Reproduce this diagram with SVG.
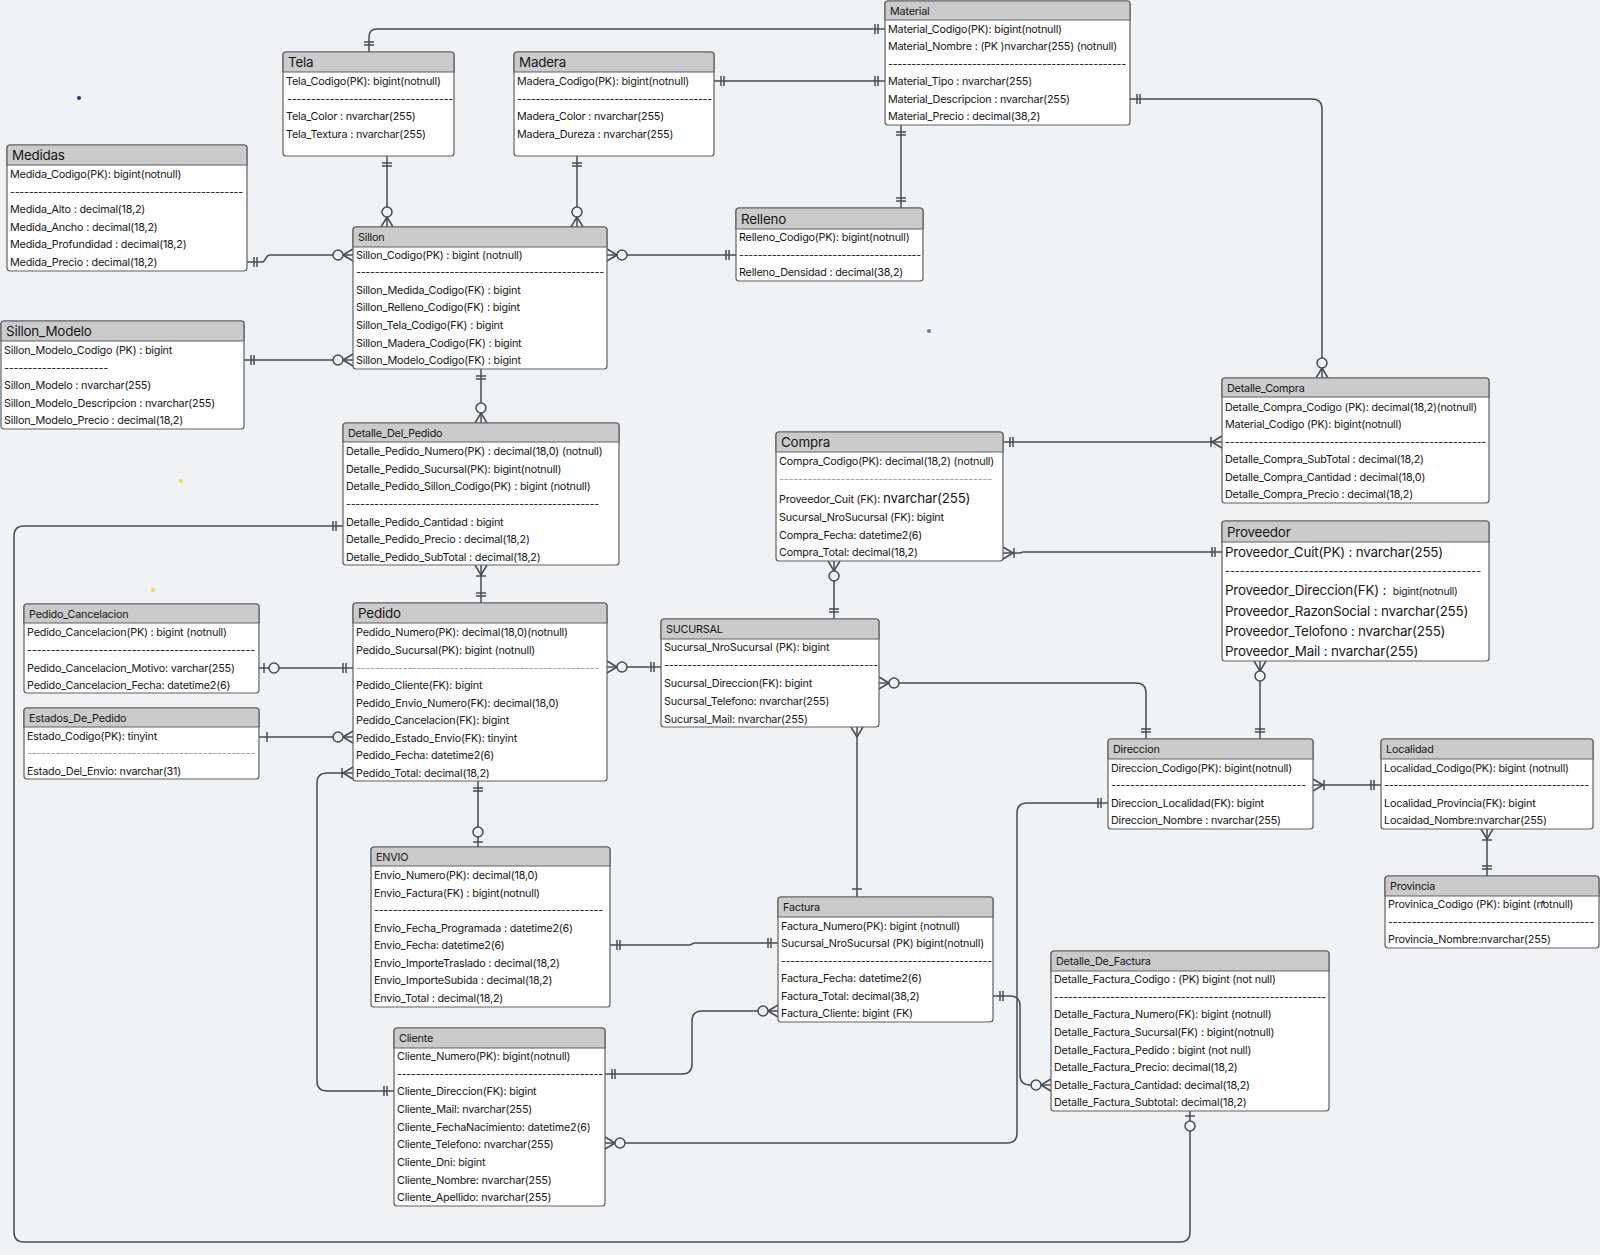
<svg xmlns="http://www.w3.org/2000/svg" width="1600" height="1255" viewBox="0 0 1600 1255">
<style>
.bg{fill:#f1f2f4}
.b{fill:#ffffff;stroke:#5c6067;stroke-width:1.2}
.h{fill:#cbcbcb;stroke:#5c6067;stroke-width:1.2}
text{font-family:Inter,"Liberation Sans","Noto Sans",sans-serif;font-size:10.8px;letter-spacing:-0.2px;fill:#161616}
.tb{font-size:13.4px}
.big{font-size:13.4px}
.ld{fill:#9a9a9a}
.cn{fill:none;stroke:#474c54;stroke-width:1.5}
.mk{fill:none;stroke:#474c54;stroke-width:1.5}
.mc{fill:#f1f2f4;stroke:#474c54;stroke-width:1.5}
</style>
<defs>
<marker id="mOO" viewBox="-25 -15 30 30" markerWidth="30" markerHeight="30" refX="0" refY="0" orient="auto-start-reverse" markerUnits="userSpaceOnUse"><path class="mk" d="M-7,-5V5M-10,-5V5"/></marker>
<marker id="mZM" viewBox="-25 -15 30 30" markerWidth="30" markerHeight="30" refX="0" refY="0" orient="auto-start-reverse" markerUnits="userSpaceOnUse"><path class="mk" d="M-10,0L0,-6M-10,0L0,6"/><circle class="mc" cx="-15" cy="0" r="5"/></marker>
<marker id="mOM" viewBox="-25 -15 30 30" markerWidth="30" markerHeight="30" refX="0" refY="0" orient="auto-start-reverse" markerUnits="userSpaceOnUse"><path class="mk" d="M-10,0L0,-6M-10,0L0,6M-11,-5V5"/></marker>
<marker id="mZO" viewBox="-25 -15 30 30" markerWidth="30" markerHeight="30" refX="0" refY="0" orient="auto-start-reverse" markerUnits="userSpaceOnUse"><path class="mk" d="M-5,-5V5"/><circle class="mc" cx="-15" cy="0" r="5"/></marker>
<marker id="mO1" viewBox="-25 -15 30 30" markerWidth="30" markerHeight="30" refX="0" refY="0" orient="auto-start-reverse" markerUnits="userSpaceOnUse"><path class="mk" d="M-8,-5V5"/></marker>
<marker id="mMM" viewBox="-25 -15 30 30" markerWidth="30" markerHeight="30" refX="0" refY="0" orient="auto-start-reverse" markerUnits="userSpaceOnUse"><path class="mk" d="M-10,0L0,-6M-10,0L0,6"/></marker>
</defs>
<rect class="bg" x="0" y="0" width="1600" height="1255"/>
<circle cx="79" cy="98" r="2" fill="#2b2b9c"/>
<circle cx="929" cy="331" r="2" fill="#7466dd"/>
<circle cx="181" cy="481" r="2" fill="#f3d64a"/>
<circle cx="153" cy="590" r="2" fill="#f3d64a"/>

<g id="connectors">
<path class="cn" d="M369,52 V37 Q369,29 377,29 H885" marker-start="url(#mOO)" marker-end="url(#mOO)"/>
<path class="cn" d="M714,81 H885" marker-start="url(#mOO)" marker-end="url(#mOO)"/>
<path class="cn" d="M387,156 V227" marker-start="url(#mOO)" marker-end="url(#mZM)"/>
<path class="cn" d="M577,156 V227" marker-start="url(#mOO)" marker-end="url(#mZM)"/>
<path class="cn" d="M247,262 H262 C266,262 265,255 270,255 H353" marker-start="url(#mOO)" marker-end="url(#mZM)"/>
<path class="cn" d="M244,360 H353" marker-start="url(#mOO)" marker-end="url(#mZM)"/>
<path class="cn" d="M607,255 H736" marker-start="url(#mZM)" marker-end="url(#mOO)"/>
<path class="cn" d="M901,125 V208" marker-start="url(#mOO)" marker-end="url(#mOO)"/>
<path class="cn" d="M1130,99 H1312 Q1322,99 1322,109 V378" marker-start="url(#mOO)" marker-end="url(#mZM)"/>
<path class="cn" d="M481,369 V423" marker-start="url(#mOO)" marker-end="url(#mZM)"/>
<path class="cn" d="M481,565 V603" marker-start="url(#mOM)" marker-end="url(#mOO)"/>
<path class="cn" d="M1003,442 H1222" marker-start="url(#mOO)" marker-end="url(#mOM)"/>
<path class="cn" d="M1003,553 H1020 L1023,552 H1222" marker-start="url(#mOM)" marker-end="url(#mOO)"/>
<path class="cn" d="M834,561 V619" marker-start="url(#mZM)" marker-end="url(#mOO)"/>
<path class="cn" d="M607,667 H661" marker-start="url(#mZM)" marker-end="url(#mOO)"/>
<path class="cn" d="M879,683 H1136 Q1146,683 1146,693 V739" marker-start="url(#mZM)" marker-end="url(#mOO)"/>
<path class="cn" d="M1260,661 V739" marker-start="url(#mZM)" marker-end="url(#mOO)"/>
<path class="cn" d="M1313,785 H1381" marker-start="url(#mOM)" marker-end="url(#mOO)"/>
<path class="cn" d="M1487,829 V876" marker-start="url(#mOM)" marker-end="url(#mOO)"/>
<path class="cn" d="M259,668 H353" marker-start="url(#mZO)" marker-end="url(#mOO)"/>
<path class="cn" d="M259,737 H353" marker-start="url(#mO1)" marker-end="url(#mZM)"/>
<path class="cn" d="M478,781 V847" marker-start="url(#mOO)" marker-end="url(#mZO)"/>
<path class="cn" d="M353,773 H327 Q317,773 317,783 V1081 Q317,1091 327,1091 H394" marker-start="url(#mOM)" marker-end="url(#mOO)"/>
<path class="cn" d="M610,945 H690 L694,943 H778" marker-start="url(#mOO)" marker-end="url(#mOO)"/>
<path class="cn" d="M605,1074 H682 Q692,1074 692,1064 V1021 Q692,1011 702,1011 H778" marker-start="url(#mOO)" marker-end="url(#mZM)"/>
<path class="cn" d="M857,727 V897" marker-start="url(#mMM)" marker-end="url(#mO1)"/>
<path class="cn" d="M993,996 H1010 Q1020,996 1020,1006 V1075 Q1020,1085 1030,1085 H1051" marker-start="url(#mOO)" marker-end="url(#mZM)"/>
<path class="cn" d="M1108,803 H1027 Q1017,803 1017,813 V1133 Q1017,1143 1007,1143 H605" marker-start="url(#mOO)" marker-end="url(#mZM)"/>
<path class="cn" d="M1190,1111 V1232 Q1190,1242 1180,1242 H24 Q14,1242 14,1232 V536 Q14,526 24,526 H343" marker-start="url(#mZO)" marker-end="url(#mOO)"/>
</g>

<g id="tela">
<rect class="b" x="283" y="52" width="171" height="104" rx="3"/>
<path class="h" d="M283,72 V55 Q283,52 286,52 H451 Q454,52 454,55 V72 Z"/>
<text class="tb" x="288" y="67">Tela</text>
<text x="286" y="85">Tela_Codigo(PK): bigint(notnull)</text>
<text x="287" y="102.5" textLength="166" lengthAdjust="spacing">-----------------------------------</text>
<text x="286" y="120">Tela_Color : nvarchar(255)</text>
<text x="286" y="138">Tela_Textura : nvarchar(255)</text>
</g>

<g id="madera">
<rect class="b" x="514" y="52" width="200" height="104" rx="3"/>
<path class="h" d="M514,72 V55 Q514,52 517,52 H711 Q714,52 714,55 V72 Z"/>
<text class="tb" x="519" y="67">Madera</text>
<text x="517" y="85">Madera_Codigo(PK): bigint(notnull)</text>
<text x="517" y="102.5" textLength="195" lengthAdjust="spacing">------------------------------------------</text>
<text x="517" y="120">Madera_Color : nvarchar(255)</text>
<text x="517" y="138">Madera_Dureza : nvarchar(255)</text>
</g>

<g id="material">
<rect class="b" x="885" y="1" width="245" height="124" rx="3"/>
<path class="h" d="M885,20 V4 Q885,1 888,1 H1127 Q1130,1 1130,4 V20 Z"/>
<text x="890" y="14.5">Material</text>
<text x="888" y="33">Material_Codigo(PK): bigint(notnull)</text>
<text x="888" y="50" textLength="229" lengthAdjust="spacingAndGlyphs">Material_Nombre : (PK )nvarchar(255) (notnull)</text>
<text x="888" y="67.5" textLength="238" lengthAdjust="spacing">---------------------------------------------------</text>
<text x="888" y="85">Material_Tipo : nvarchar(255)</text>
<text x="888" y="103">Material_Descripcion : nvarchar(255)</text>
<text x="888" y="120">Material_Precio : decimal(38,2)</text>
</g>

<g id="medidas">
<rect class="b" x="7" y="145" width="240" height="126" rx="3"/>
<path class="h" d="M7,165 V148 Q7,145 10,145 H244 Q247,145 247,148 V165 Z"/>
<text class="tb" x="12" y="160">Medidas</text>
<text x="10" y="178">Medida_Codigo(PK): bigint(notnull)</text>
<text x="10" y="195.5" textLength="233" lengthAdjust="spacing">--------------------------------------------------</text>
<text x="10" y="213">Medida_Alto : decimal(18,2)</text>
<text x="10" y="231">Medida_Ancho : decimal(18,2)</text>
<text x="10" y="248">Medida_Profundidad : decimal(18,2)</text>
<text x="10" y="266">Medida_Precio : decimal(18,2)</text>
</g>

<g id="sillon">
<rect class="b" x="353" y="227" width="254" height="142" rx="3"/>
<path class="h" d="M353,247 V230 Q353,227 356,227 H604 Q607,227 607,230 V247 Z"/>
<text x="358" y="241">Sillon</text>
<text x="356" y="259">Sillon_Codigo(PK) : bigint (notnull)</text>
<text x="356" y="275.5" textLength="248" lengthAdjust="spacing">-----------------------------------------------------</text>
<text x="356" y="294">Sillon_Medida_Codigo(FK) : bigint</text>
<text x="356" y="311">Sillon_Relleno_Codigo(FK) : bigint</text>
<text x="356" y="329">Sillon_Tela_Codigo(FK) : bigint</text>
<text x="356" y="347">Sillon_Madera_Codigo(FK) : bigint</text>
<text x="356" y="364">Sillon_Modelo_Codigo(FK) : bigint</text>
</g>

<g id="relleno">
<rect class="b" x="736" y="208" width="187" height="73" rx="3"/>
<path class="h" d="M736,229 V211 Q736,208 739,208 H920 Q923,208 923,211 V229 Z"/>
<text class="tb" x="741" y="223.5">Relleno</text>
<text x="739" y="241">Relleno_Codigo(PK): bigint(notnull)</text>
<text x="739" y="258.5" textLength="182" lengthAdjust="spacing">---------------------------------------</text>
<text x="739" y="276">Relleno_Densidad : decimal(38,2)</text>
</g>

<g id="sillon_modelo">
<rect class="b" x="1" y="321" width="243" height="108" rx="3"/>
<path class="h" d="M1,341 V324 Q1,321 4,321 H241 Q244,321 244,324 V341 Z"/>
<text class="tb" x="6" y="336">Sillon_Modelo</text>
<text x="4" y="354">Sillon_Modelo_Codigo (PK) : bigint</text>
<text x="4" y="371.5" textLength="104" lengthAdjust="spacing">----------------------</text>
<text x="4" y="389">Sillon_Modelo : nvarchar(255)</text>
<text x="4" y="407">Sillon_Modelo_Descripcion : nvarchar(255)</text>
<text x="4" y="424">Sillon_Modelo_Precio : decimal(18,2)</text>
</g>

<g id="detalle_del_pedido">
<rect class="b" x="343" y="423" width="276" height="142" rx="3"/>
<path class="h" d="M343,442 V426 Q343,423 346,423 H616 Q619,423 619,426 V442 Z"/>
<text x="348" y="436.5">Detalle_Del_Pedido</text>
<text x="346" y="455">Detalle_Pedido_Numero(PK) : decimal(18,0) (notnull)</text>
<text x="346" y="473">Detalle_Pedido_Sucursal(PK): bigint(notnull)</text>
<text x="346" y="490">Detalle_Pedido_Sillon_Codigo(PK) : bigint (notnull)</text>
<text x="346" y="507.5" textLength="253" lengthAdjust="spacing">------------------------------------------------------</text>
<text x="346" y="526">Detalle_Pedido_Cantidad : bigint</text>
<text x="346" y="543">Detalle_Pedido_Precio : decimal(18,2)</text>
<text x="346" y="561">Detalle_Pedido_SubTotal : decimal(18,2)</text>
</g>

<g id="compra">
<rect class="b" x="776" y="432" width="227" height="129" rx="3"/>
<path class="h" d="M776,452 V435 Q776,432 779,432 H1000 Q1003,432 1003,435 V452 Z"/>
<text class="tb" x="781" y="447">Compra</text>
<text x="779" y="465">Compra_Codigo(PK): decimal(18,2) (notnull)</text>
<text class="ld" x="779" y="482.5" textLength="213" lengthAdjust="spacing">---------------------------------------------</text>
<text x="779" y="503">Proveedor_Cuit (FK): <tspan class="big">nvarchar(255)</tspan></text>
<text x="779" y="521">Sucursal_NroSucursal (FK): bigint</text>
<text x="779" y="539">Compra_Fecha: datetime2(6)</text>
<text x="779" y="556">Compra_Total: decimal(18,2)</text>
</g>

<g id="detalle_compra">
<rect class="b" x="1222" y="378" width="267" height="125" rx="3"/>
<path class="h" d="M1222,397 V381 Q1222,378 1225,378 H1486 Q1489,378 1489,381 V397 Z"/>
<text x="1227" y="391.5">Detalle_Compra</text>
<text x="1225" y="411" textLength="252" lengthAdjust="spacingAndGlyphs">Detalle_Compra_Codigo (PK): decimal(18,2)(notnull)</text>
<text x="1225" y="428">Material_Codigo (PK): bigint(notnull)</text>
<text x="1225" y="445.5" textLength="261" lengthAdjust="spacing">-------------------------------------------------------</text>
<text x="1225" y="463">Detalle_Compra_SubTotal : decimal(18,2)</text>
<text x="1225" y="481">Detalle_Compra_Cantidad : decimal(18,0)</text>
<text x="1225" y="498">Detalle_Compra_Precio : decimal(18,2)</text>
</g>

<g id="proveedor">
<rect class="b" x="1222" y="521" width="267" height="140" rx="3"/>
<path class="h" d="M1222,542 V524 Q1222,521 1225,521 H1486 Q1489,521 1489,524 V542 Z"/>
<text class="tb" x="1227" y="536.5">Proveedor</text>
<text class="big" x="1225" y="557">Proveedor_Cuit(PK) : nvarchar(255)</text>
<text x="1225" y="574.5" textLength="256" lengthAdjust="spacing">----------------------------------------------------</text>
<text class="big" x="1225" y="595">Proveedor_Direccion(FK) : <tspan dx="3" font-size="10.4px">bigint(notnull)</tspan></text>
<text class="big" x="1225" y="616">Proveedor_RazonSocial : nvarchar(255)</text>
<text class="big" x="1225" y="636">Proveedor_Telofono : nvarchar(255)</text>
<text class="big" x="1225" y="656">Proveedor_Mail : nvarchar(255)</text>
</g>

<g id="pedido_cancelacion">
<rect class="b" x="24" y="604" width="235" height="89" rx="3"/>
<path class="h" d="M24,623 V607 Q24,604 27,604 H256 Q259,604 259,607 V623 Z"/>
<text x="29" y="617.5">Pedido_Cancelacion</text>
<text x="27" y="636">Pedido_Cancelacion(PK) : bigint (notnull)</text>
<text x="27" y="653.5" textLength="228" lengthAdjust="spacing">------------------------------------------------</text>
<text x="27" y="672">Pedido_Cancelacion_Motivo: varchar(255)</text>
<text x="27" y="689">Pedido_Cancelacion_Fecha: datetime2(6)</text>
</g>

<g id="estados_de_pedido">
<rect class="b" x="24" y="708" width="235" height="71" rx="3"/>
<path class="h" d="M24,727 V711 Q24,708 27,708 H256 Q259,708 259,711 V727 Z"/>
<text x="29" y="721.5">Estados_De_Pedido</text>
<text x="27" y="740">Estado_Codigo(PK): tinyint</text>
<text class="ld" x="27" y="756.5" textLength="228" lengthAdjust="spacing">------------------------------------------------</text>
<text x="27" y="775">Estado_Del_Envio: nvarchar(31)</text>
</g>

<g id="pedido">
<rect class="b" x="353" y="603" width="254" height="178" rx="3"/>
<path class="h" d="M353,623 V606 Q353,603 356,603 H604 Q607,603 607,606 V623 Z"/>
<text class="tb" x="358" y="618">Pedido</text>
<text x="356" y="636">Pedido_Numero(PK): decimal(18,0)(notnull)</text>
<text x="356" y="654">Pedido_Sucursal(PK): bigint (notnull)</text>
<text class="ld" x="356" y="671.5" textLength="243" lengthAdjust="spacing">----------------------------------------------------</text>
<text x="356" y="689">Pedido_Cliente(FK): bigint</text>
<text x="356" y="707">Pedido_Envio_Numero(FK): decimal(18,0)</text>
<text x="356" y="724">Pedido_Cancelacion(FK): bigint</text>
<text x="356" y="742">Pedido_Estado_Envio(FK): tinyint</text>
<text x="356" y="759">Pedido_Fecha: datetime2(6)</text>
<text x="356" y="777">Pedido_Total: decimal(18,2)</text>
</g>

<g id="sucursal">
<rect class="b" x="661" y="619" width="218" height="108" rx="3"/>
<path class="h" d="M661,639 V622 Q661,619 664,619 H876 Q879,619 879,622 V639 Z"/>
<text x="666" y="633">SUCURSAL</text>
<text x="664" y="651">Sucursal_NroSucursal (PK): bigint</text>
<text x="664" y="668.5" textLength="214" lengthAdjust="spacing">----------------------------------------------</text>
<text x="664" y="687">Sucursal_Direccion(FK): bigint</text>
<text x="664" y="705">Sucursal_Telefono: nvarchar(255)</text>
<text x="664" y="723">Sucursal_Mail: nvarchar(255)</text>
</g>

<g id="direccion">
<rect class="b" x="1108" y="739" width="205" height="90" rx="3"/>
<path class="h" d="M1108,759 V742 Q1108,739 1111,739 H1310 Q1313,739 1313,742 V759 Z"/>
<text x="1113" y="753">Direccion</text>
<text x="1111" y="772">Direccion_Codigo(PK): bigint(notnull)</text>
<text x="1111" y="788.5" textLength="195" lengthAdjust="spacing">-----------------------------------------</text>
<text x="1111" y="807">Direccion_Localidad(FK): bigint</text>
<text x="1111" y="824">Direccion_Nombre : nvarchar(255)</text>
</g>

<g id="localidad">
<rect class="b" x="1381" y="739" width="212" height="90" rx="3"/>
<path class="h" d="M1381,759 V742 Q1381,739 1384,739 H1590 Q1593,739 1593,742 V759 Z"/>
<text x="1386" y="753">Localidad</text>
<text x="1384" y="772">Localidad_Codigo(PK): bigint (notnull)</text>
<text x="1384" y="788.5" textLength="205" lengthAdjust="spacing">--------------------------------------------</text>
<text x="1384" y="807">Localidad_Provincia(FK): bigint</text>
<text x="1384" y="824">Locaidad_Nombre:nvarchar(255)</text>
</g>

<g id="provincia">
<rect class="b" x="1385" y="876" width="214" height="72" rx="3"/>
<path class="h" d="M1385,896 V879 Q1385,876 1388,876 H1596 Q1599,876 1599,879 V896 Z"/>
<text x="1390" y="890">Provincia</text>
<text x="1388" y="908">Provinica_Codigo (PK): bigint (notnull)</text>
<text x="1388" y="925.5" textLength="206" lengthAdjust="spacing">--------------------------------------------</text>
<text x="1388" y="943">Provincia_Nombre:nvarchar(255)</text>
<circle cx="1543" cy="902" r="1.5" fill="#2b2b9c"/>
</g>

<g id="envio">
<rect class="b" x="371" y="847" width="239" height="160" rx="3"/>
<path class="h" d="M371,866 V850 Q371,847 374,847 H607 Q610,847 610,850 V866 Z"/>
<text x="376" y="860.5">ENVIO</text>
<text x="374" y="879">Envio_Numero(PK): decimal(18,0)</text>
<text x="374" y="897">Envio_Factura(FK) : bigint(notnull)</text>
<text x="374" y="913.5" textLength="229" lengthAdjust="spacing">-------------------------------------------------</text>
<text x="374" y="932">Envio_Fecha_Programada : datetime2(6)</text>
<text x="374" y="949">Envio_Fecha: datetime2(6)</text>
<text x="374" y="967">Envio_ImporteTraslado : decimal(18,2)</text>
<text x="374" y="984">Envio_ImporteSubida : decimal(18,2)</text>
<text x="374" y="1002">Envio_Total : decimal(18,2)</text>
</g>

<g id="factura">
<rect class="b" x="778" y="897" width="215" height="125" rx="3"/>
<path class="h" d="M778,917 V900 Q778,897 781,897 H990 Q993,897 993,900 V917 Z"/>
<text x="783" y="911">Factura</text>
<text x="781" y="930">Factura_Numero(PK): bigint (notnull)</text>
<text x="781" y="947">Sucursal_NroSucursal (PK) bigint(notnull)</text>
<text x="781" y="964.5" textLength="211" lengthAdjust="spacing">---------------------------------------------</text>
<text x="781" y="982">Factura_Fecha: datetime2(6)</text>
<text x="781" y="1000">Factura_Total: decimal(38,2)</text>
<text x="781" y="1017">Factura_Cliente: bigint (FK)</text>
</g>

<g id="detalle_de_factura">
<rect class="b" x="1051" y="951" width="278" height="160" rx="3"/>
<path class="h" d="M1051,971 V954 Q1051,951 1054,951 H1326 Q1329,951 1329,954 V971 Z"/>
<text x="1056" y="965">Detalle_De_Factura</text>
<text x="1054" y="983">Detalle_Factura_Codigo : (PK) bigint (not null)</text>
<text x="1054" y="1000.5" textLength="272" lengthAdjust="spacing">----------------------------------------------------------</text>
<text x="1054" y="1018">Detalle_Factura_Numero(FK): bigint (notnull)</text>
<text x="1054" y="1036">Detalle_Factura_Sucursal(FK) : bigint(notnull)</text>
<text x="1054" y="1054">Detalle_Factura_Pedido : bigint (not null)</text>
<text x="1054" y="1071">Detalle_Factura_Precio: decimal(18,2)</text>
<text x="1054" y="1089">Detalle_Factura_Cantidad: decimal(18,2)</text>
<text x="1054" y="1106">Detalle_Factura_Subtotal: decimal(18,2)</text>
</g>

<g id="cliente">
<rect class="b" x="394" y="1028" width="211" height="178" rx="3"/>
<path class="h" d="M394,1048 V1031 Q394,1028 397,1028 H602 Q605,1028 605,1031 V1048 Z"/>
<text x="399" y="1042">Cliente</text>
<text x="397" y="1060">Cliente_Numero(PK): bigint(notnull)</text>
<text x="397" y="1077.5" textLength="206" lengthAdjust="spacing">--------------------------------------------</text>
<text x="397" y="1095">Cliente_Direccion(FK): bigint</text>
<text x="397" y="1113">Cliente_Mail: nvarchar(255)</text>
<text x="397" y="1131">Cliente_FechaNacimiento: datetime2(6)</text>
<text x="397" y="1148">Cliente_Telefono: nvarchar(255)</text>
<text x="397" y="1166">Cliente_Dni: bigint</text>
<text x="397" y="1184">Cliente_Nombre: nvarchar(255)</text>
<text x="397" y="1201">Cliente_Apellido: nvarchar(255)</text>
</g>
</svg>
